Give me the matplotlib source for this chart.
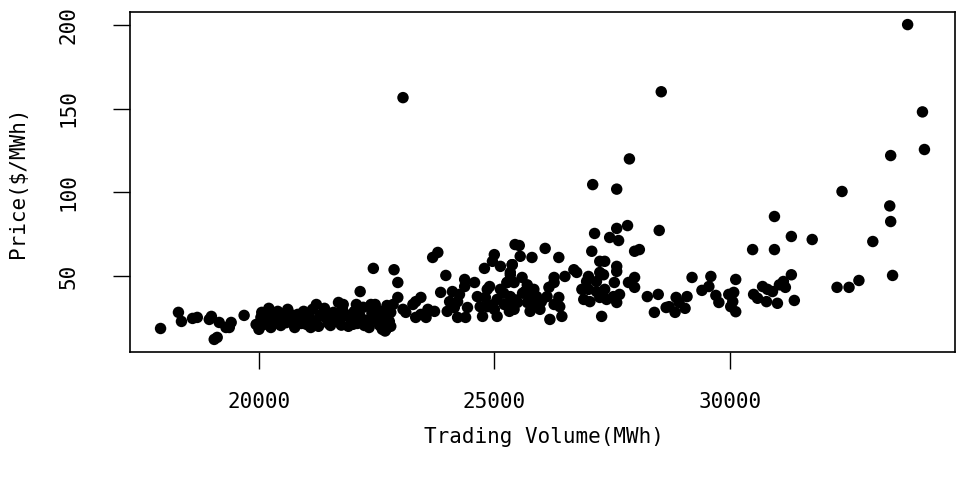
import matplotlib
matplotlib.use("Agg")
import matplotlib.pyplot as plt

x_label = "Trading Volume(MWh)"
y_label = "Price($/MWh)"
x_ticks = [20000, 25000, 30000]
y_ticks = [50, 100, 150, 200]

volume = [
    33780, 23060, 28546, 34095, 34137, 33420, 27870, 27090, 27600, 32386,
    33400, 33420, 30951, 30951, 31310, 31753, 30487, 33040, 33460, 32280,
    32535, 32745, 28503, 28081, 28250, 28482, 28400, 28714, 28862, 28925,
    28840, 29052, 29094, 28650, 29200, 29410, 29558, 29600, 29706, 29770,
    30128, 29980, 30065, 30128, 30022, 30086, 30508, 30592, 30698, 30803,
    30782, 30909, 31014, 31056, 31141, 31183, 31310, 31373,
    # region 25000-28000
    27600, 27830, 27130, 27450, 27640, 27980, 27070, 27240, 27345, 27600,
    27600, 27550, 27850, 27980, 27980, 27240, 27320, 27170, 27000, 26960,
    26860, 27000, 26900, 27030, 27170, 27240, 27385, 27345, 27530, 27660,
    27600, 27280, 26690, 26750, 26500, 26270, 26270, 26160, 26120, 26370,
    26390, 26270, 26435, 26180, 25970, 26080, 26370, 25530, 25550, 25800,
    25380, 25340, 25420, 25590, 25700, 25650, 25840, 25900, 25760, 25700,
    25490, 25340, 25420, 25760, 25340, 25270,
    25600, 25450, 25900, 26000, 25200, 24950,
    # region 22700-25400
    23800, 23690, 22870, 22950, 23970, 24370, 24580, 24370, 23860, 24110,
    24260, 24050, 24220, 24150, 24000, 24430, 24390, 24220, 24640, 24810,
    24850, 24900, 25000, 24960, 25130, 24790, 25380, 25340, 25440, 25270,
    25130, 25060, 24850, 25000, 24700, 24750, 25060, 25210, 25380, 25320,
    23440, 23330, 23270, 23590, 23730, 23440, 23330, 23550, 23060, 22950,
    22850, 22800, 23120, 22740, 22800,
    22430, 22150, 21690, 22070, 22470, 22700, 22700,
    # low-volume region
    17910, 18290, 18354, 18590, 18690, 18990, 18945, 19113, 19050, 19156,
    19300, 19410, 19370, 19685, 19940, 20000, 20060, 20150, 20210,
    # dense band 20000-22800
    20042, 20105, 20211, 20253, 20338, 20400, 20464, 20549, 20612, 20675,
    20760, 20823, 20886, 20950, 21013, 21076, 21140, 21203, 21266, 21330,
    21393, 21456, 21520, 21583, 21646, 21710, 21772, 21836, 21900, 21962,
    22026, 22090, 22150, 22216, 22280, 22340, 22400, 22470, 22530, 22600,
    22660, 22720, 22770, 20150, 20510, 20800, 21100, 21415, 21690, 21940,
    22240, 22510, 22620, 22380, 21790, 21220,
    20300, 20580, 20900, 21180, 21480, 21750, 22000, 22300, 22560, 22680,
    20700, 21000, 21300, 21600, 21880, 22120, 22420,
]

price = [
    200, 156.5, 160, 148, 125.6, 122, 120, 104.7, 102, 100.6,
    92, 82.7, 85.7, 66, 73.8, 72, 66, 70.8, 50.6, 43.5,
    43.5, 47.6, 77.4, 66, 38, 39.3, 28.6, 32, 37.5, 34.5,
    28.6, 31, 38, 31.5, 49.4, 41.7, 44, 50, 38.7, 34.5,
    48.2, 39.3, 35, 29, 32, 40.5, 39.3, 37, 44, 42.3,
    35, 41, 34, 45, 47, 43.5, 51, 35.7,
    78.6, 80.3, 75.6, 73.2, 71.4, 65, 65, 59, 59, 56,
    53, 46.4, 46.4, 49.4, 43.5, 52.4, 51, 47, 50, 47,
    42.3, 42.3, 36.3, 35, 41, 37.5, 36.3, 42.3, 38, 39.3,
    34.5, 26.2, 54, 52.4, 50, 49.4, 46.4, 43.5, 38, 37.5,
    32, 33.3, 26.2, 24.4, 30.4, 66.7, 61.3, 68.4, 62, 61.3,
    57, 51, 46.4, 49.4, 45, 41, 42.3, 38, 37.5, 34.5,
    34.5, 31.5, 30.4, 29.2, 38, 46.4,
    40, 36, 33, 35, 40, 33,
    64.3, 61.3, 54, 46.4, 50.6, 48.2, 46.4, 44, 40.5, 41,
    39.3, 35, 35, 31.5, 29.2, 31.5, 25.6, 25.6, 38, 37.5,
    42.3, 44, 63, 59, 56, 54.8, 57, 52.4, 69, 46.4,
    42.3, 36.3, 32, 30.4, 32, 26.2, 26.2, 33.3, 32, 29.2,
    37.5, 35, 33.3, 30.4, 29.2, 27.4, 25.6, 25.6, 30.4, 37.5,
    33.3, 28.6, 28.6, 24.4, 20.3,
    54.8, 41, 34.5, 33.3, 33.3, 30.4, 18.5,
    19, 28.6, 23.2, 25, 25.6, 26.2, 24.4, 13.7, 12.5, 22.6,
    19.6, 22.6, 19.6, 26.8, 21.4, 18.5, 28.6, 24.4, 31,
    25.6, 21.4, 27.4, 19.6, 24.4, 29.2, 20.8, 25.6, 30.4, 23.2,
    19.6, 27.4, 24.4, 29.2, 21.4, 25.6, 30.4, 23.2, 20.3, 27.4,
    31, 24.4, 20.8, 28.6, 25.6, 22.6, 31, 26.8, 20.3, 24.4,
    29.2, 22, 26.2, 31.6, 23.8, 19.6, 28, 24.4, 29.8, 21.4,
    25.6, 32.7, 23.2, 23.2, 27.4, 22, 19.6, 25.6, 28, 26.8,
    20.8, 25, 18.5, 33.3, 33.3, 33.3,
    22, 22.5, 22, 21.5, 22, 21, 21.5, 22, 21, 17.5,
    27, 26, 26.5, 26, 27, 26, 26.5,
]

fig = plt.figure(figsize=(9.57, 4.80), dpi=100)
ax = fig.add_axes([130 / 957, 1 - 352 / 480, (955 - 130) / 957, (352 - 12) / 480])

ax.scatter(volume, price, s=68, color="black", edgecolors="none", zorder=3)

xmin, xmax = min(volume), max(volume)
ymin, ymax = min(price), max(price)
xr, yr = xmax - xmin, ymax - ymin
ax.set_xlim(xmin - 0.04 * xr, xmax + 0.04 * xr)
ax.set_ylim(ymin - 0.04 * yr, ymax + 0.04 * yr)

font = {"family": "DejaVu Sans Mono", "size": 15}
ax.set_xticks(x_ticks)
ax.set_xticklabels([str(t) for t in x_ticks], fontdict=font)
ax.set_yticks(y_ticks)
ax.set_yticklabels([str(t) for t in y_ticks], fontdict=font, rotation=90, va="center")
ax.tick_params(axis="both", length=12, width=1, color="black")
ax.tick_params(axis="x", pad=17)
ax.tick_params(axis="y", pad=25)
for s in ax.spines.values():
    s.set_linewidth(1.2)
    s.set_color("black")

fig.text(544 / 957, 1 - 437 / 480, x_label, ha="center", va="center", **font)
fig.text(18 / 957, 1 - 182 / 480, y_label, ha="center", va="center", rotation=90, **font)

fig.savefig("out.png", dpi=100)
